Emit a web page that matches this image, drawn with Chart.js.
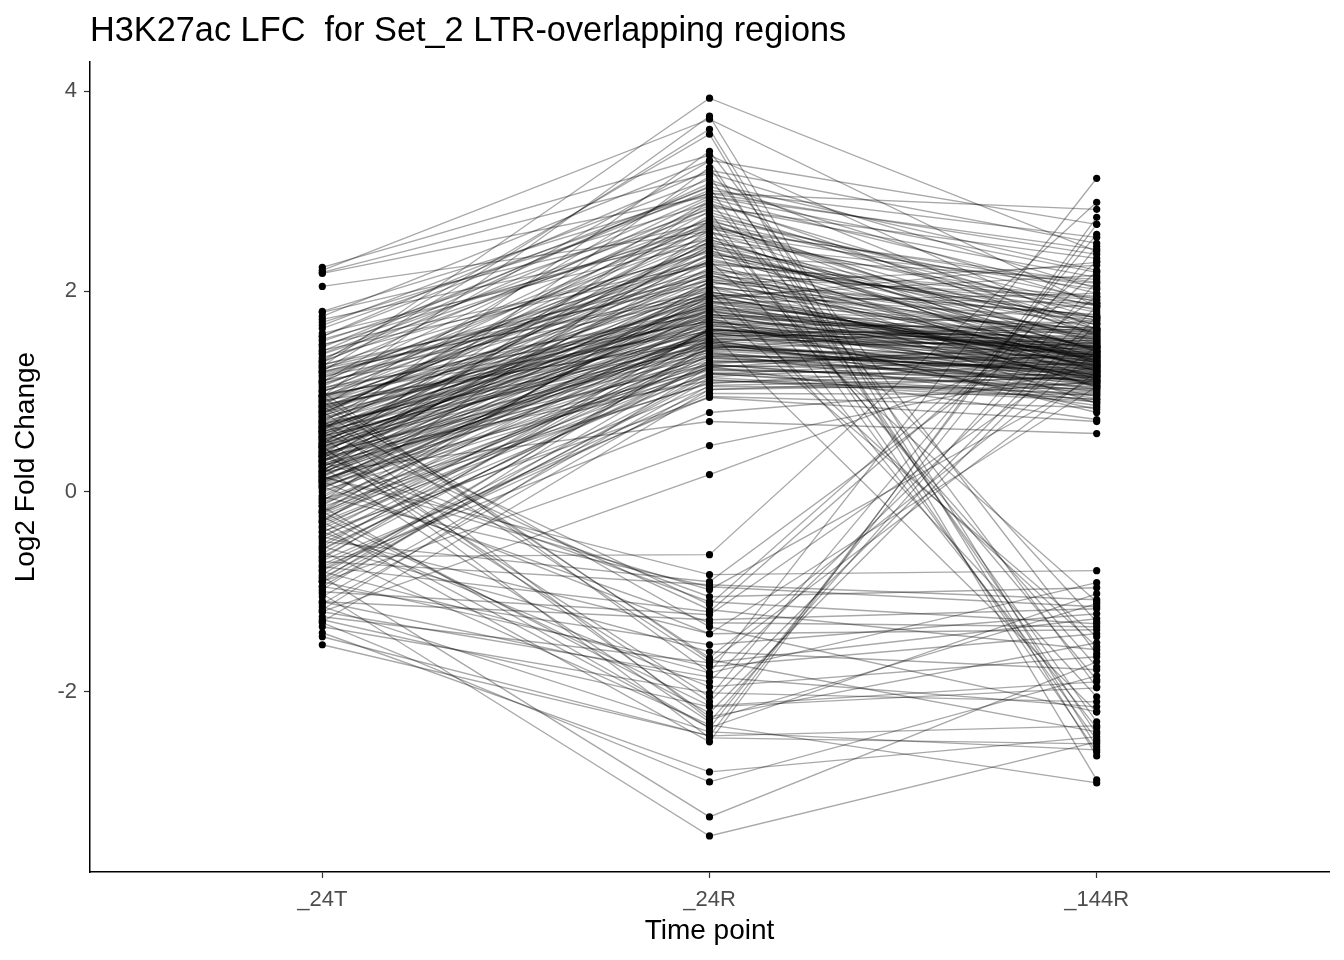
<!DOCTYPE html>
<html>
<head>
<meta charset="utf-8">
<script src="https://cdn.jsdelivr.net/npm/chart.js@4.4.0/dist/chart.umd.min.js"></script>
<style>
  body { margin: 0; background: #fff; }
  #wrap { width: 1344px; height: 960px; }
</style>
</head>
<body>
<div id="wrap"><canvas id="lfcChart" width="1344" height="960"></canvas></div>
<script>
// time points on the x axis
const timePoints = ["_24T", "_24R", "_144R"];
const yTicks = [-2, 0, 2, 4];

// log2 fold change per region, one entry per region in each array
const lfc24T = [
  0.42, 0.15, 0.88, -0.32, 1.21, 0.55, 0.03, 0.71, 1.46, -0.65,
  0.36, 0.94, -0.12, 0.61, 1.08, 0.27, -0.48, 0.79, 1.63, 0.18,
  0.50, -0.86, 1.32, 0.09, 0.67, 0.44, 1.15, -0.21, 0.83, 0.31,
  1.72, 0.58, -0.04, 0.96, 0.22, -0.57, 1.38, 0.63, 0.12, 0.47,
  0.74, 1.02, -0.35, 0.39, 1.55, 0.06, 0.86, -0.73, 0.52, 1.19,
  0.25, 0.69, -0.15, 1.27, 0.41, 0.91, -0.95, 0.33, 1.79, 0.57,
  0.14, 1.11, 0.46, -0.41, 0.78, 0.20, 1.41, -0.08, 0.65, 0.99,
  -0.62, 0.37, 1.24, 0.54, 0.01, 0.82, 1.58, -0.27, 0.43, 0.72,
  1.05, 0.29, -0.79, 0.60, 1.34, 0.11, 0.89, -0.18, 0.48, 1.66,
  0.23, 0.76, -0.52, 1.13, 0.35, 0.97, -1.05, 0.62, 0.17, 1.29,
  0.45, -0.24, 0.84, 1.50, 0.08, 0.66, -0.44, 1.18, 0.30, 0.93,
  0.56, -0.11, 1.37, 0.19, 0.75, -0.69, 1.01, 0.40, 1.69, 0.26,
  0.81, -0.37, 0.49, 1.23, 0.04, 0.70, -0.90, 1.44, 0.34, 0.59,
  -0.01, 0.87, 1.07, 0.21, -0.58, 0.64, 1.52, 0.38, -0.29, 0.77,
  1.16, 0.13, 0.53, -0.83, 0.95, 0.32, 1.30, -0.14, 0.68, 0.44,
  0.10, 1.47, -0.46, 0.80, 0.28, 1.09, -1.12, 0.51, 1.75, 0.60,
  0.24, -0.67, 0.92, 0.39, 1.26, 0.07, 0.73, -0.30, 1.04, 0.48,
  0.63, 1.40, -0.20, 0.16, 0.85, -0.98, 0.54, 1.20, 0.35, -0.06,
  0.52, 0.31, 0.68, 0.12, 0.44, -0.22, 0.90, 0.37, 0.58, 0.05,
  0.79, -0.55, 0.26, 1.10, 0.47, -0.08, 0.64, 0.18, -0.78, 0.96,
  -0.40, -0.75, 0.20, -0.90, -1.20, -1.30, -1.18, -0.88, 1.25, 1.80,
  2.21, 2.18, 2.24, 2.05, 2.19,
  0.95, 1.30, 0.60, 1.10, 0.35, 1.55, 0.20, 0.75, -0.10, 0.48, 1.00, -0.30, 0.65, 0.10,
  0.85, 0.30, 1.20, -0.20,
  -1.53, -1.41, -1.02, -0.85, -1.31, -0.60, 0.55, -1.20, 0.80, -0.25, -1.10,
  0.35, -0.70, 0.95, -0.45, -1.35, 0.15, -0.95, 0.60, -0.15, -0.80, 0.05,
  -0.40, 0.30, -1.15, 0.70, -0.55, 0.85, -1.28, -0.05, 0.45, -0.90,
  -0.50, 0.70, -1.00, 0.25, -0.20, 0.45, -1.25, -0.35, 1.00, -0.65, 0.10, -1.45,
  0.40, -0.75, 0.90, -0.30, 0.15, -1.10
];

const lfc24R = [
  1.62, 2.05, 2.41, 1.18, 2.86, 1.53, 1.71, 2.22, 2.64, 1.37,
  1.48, 2.73, 1.29, 1.95, 2.17, 1.84, 1.05, 1.66, 2.98, 2.31,
  2.12, 1.14, 3.08, 1.42, 1.59, 2.54, 1.93, 1.61, 2.37, 1.76,
  2.52, 1.44, 1.88, 1.70, 1.51, 1.26, 2.79, 2.64, 1.35, 1.97,
  1.81, 2.46, 1.52, 2.19, 3.21, 1.27, 1.63, 1.02, 1.74, 2.28,
  1.57, 2.91, 1.09, 2.07, 1.85, 1.49, 1.31, 2.43, 2.69, 2.02,
  1.96, 1.77, 1.39, 1.62, 2.58, 1.45, 2.26, 1.08, 1.69, 2.84,
  1.55, 1.72, 2.15, 2.33, 1.21, 1.98, 2.48, 1.40, 1.58, 1.91,
  2.62, 2.24, 0.98, 1.54, 2.39, 1.67, 2.05, 1.82, 2.76, 3.12,
  1.34, 1.86, 1.44, 2.55, 2.09, 1.60, 1.12, 2.18, 1.50, 2.95,
  1.88, 1.25, 1.73, 2.82, 1.94, 2.36, 1.19, 2.11, 1.65, 2.52,
  1.41, 1.58, 2.67, 1.78, 2.27, 0.95, 1.83, 2.00, 2.88, 1.22,
  2.44, 1.33, 1.69, 1.96, 1.48, 1.75, 1.17, 3.01, 1.90, 2.14,
  1.62, 1.52, 2.35, 2.46, 1.28, 1.87, 2.59, 1.36, 1.74, 2.70,
  2.21, 1.15, 1.99, 1.43, 1.79, 1.55, 2.72, 1.95, 1.46, 1.68,
  1.83, 2.28, 1.50, 2.03, 1.30, 2.93, 1.06, 1.80, 3.31, 1.61,
  2.38, 1.64, 2.16, 1.27, 2.41, 1.56, 1.92, 1.23, 1.70, 1.52,
  1.76, 3.05, 1.38, 1.60, 2.12, 1.47, 2.50, 2.00, 1.11, 1.90,
  1.72, 1.46, 2.05, 1.58, 1.90, 1.35, 2.30, 1.66, 1.81, 1.24,
  2.48, 1.62, 1.50, 2.66, 1.96, 1.43, 1.77, 2.10, 1.18, 2.20,
  0.94, 0.79, 0.70, 0.46, 0.17, 1.02, 1.25, 1.48, 3.93, 2.98,
  3.72, 2.95, 3.36, 2.60, 3.18,
  3.75, 3.57, 3.40, 3.30, 3.24, 3.04, 2.90, 2.80, 2.62, 2.50, 2.30, 2.10, 1.85, 1.60,
  3.15, 2.70, 3.62, 2.00,
  -2.44, -2.80, -3.44, -3.25, -2.90, -2.33, -2.25, -1.85, -1.71, -2.14, -1.28,
  -1.05, -0.93, -1.68, -1.42, -2.01, -0.83, -1.53, -1.18, -2.36, -1.81, -1.31,
  -1.95, -1.10, -2.40, -2.28, -1.60, -1.35, -2.15, -0.95, -2.46, -1.75,
  -0.90, -1.13, -1.23, -2.30, -2.21, -2.05, -1.71, -2.50, -1.81, -0.63, -1.42, -2.44,
  -2.10, -1.20, -1.66, -2.36, -0.98, -1.90
];

const lfc144R = [
  1.31, 1.58, 1.12, 0.96, 2.14, 1.44, 1.06, 1.83, 1.49, 1.22,
  1.17, 1.92, 1.38, 1.26, 0.88, 1.63, 1.03, 1.41, 2.37, 1.74,
  1.52, 0.92, 2.21, 1.35, 1.09, 1.86, 1.29, 1.55, 1.20, 1.68,
  1.40, 1.15, 1.98, 0.82, 1.27, 1.19, 1.62, 2.05, 1.33, 1.47,
  1.13, 1.71, 1.46, 1.36, 2.48, 0.99, 1.24, 1.08, 1.57, 1.91,
  1.42, 1.55, 1.18, 2.26, 1.32, 0.93, 1.14, 1.67, 1.28, 1.45,
  1.21, 1.50, 0.86, 1.39, 1.79, 1.25, 1.04, 1.30, 1.61, 2.33,
  1.37, 1.11, 1.94, 1.43, 1.16, 1.72, 1.26, 1.00, 1.48, 1.34,
  2.09, 1.40, 0.97, 1.23, 1.53, 1.64, 1.10, 1.44, 1.85, 1.56,
  1.08, 1.35, 1.51, 1.20, 1.76, 1.30, 0.90, 1.59, 1.15, 2.19,
  1.46, 1.27, 0.79, 1.66, 1.39, 2.12, 1.05, 1.31, 1.52, 1.41,
  1.19, 1.62, 1.47, 1.07, 1.95, 0.84, 1.36, 1.25, 1.73, 1.12,
  1.34, 1.21, 1.43, 1.88, 1.02, 1.29, 1.37, 2.54, 1.16, 1.60,
  1.54, 0.89, 1.69, 1.28, 1.44, 1.12, 2.02, 1.23, 1.38, 1.81,
  1.05, 1.32, 1.57, 1.17, 1.45, 1.60, 1.40, 2.16, 1.26, 0.95,
  1.48, 1.22, 1.09, 1.77, 1.35, 1.98, 1.14, 1.33, 2.67, 1.50,
  1.63, 1.18, 1.30, 1.01, 1.42, 1.53, 2.29, 1.11, 1.24, 1.39,
  1.27, 1.89, 1.20, 1.45, 1.74, 1.06, 1.51, 1.19, 0.98, 1.36,
  1.40, 1.22, 1.55, 1.28, 1.62, 1.10, 1.74, 1.16, 1.34, 1.49,
  2.08, 1.37, 1.03, 1.58, 1.25, 1.71, 1.44, 1.32, 0.92, 1.88,
  0.70, 1.10, 0.58, 1.25, 1.60, 1.15, 0.72, 1.88, 2.40, 2.82,
  1.85, 2.42, 1.62, 1.30, 2.03,
  -2.55, -2.88, -1.62, -2.42, -1.95, -2.60, -1.30, -2.48, -1.75, -2.36, -1.10, -2.05, -1.45, -2.20,
  -2.30, -1.88, -2.64, -1.55,
  -2.34, -2.45, -2.50, -1.70, -1.84, -2.91, -1.51, -2.15, -1.27, -1.90, -1.17,
  -0.96, -1.08, -2.40, -1.38, -2.10, -0.79, -1.22, -1.58, -1.02, -0.91, -1.35,
  -1.65, -1.32, -2.58, -1.12, -1.78, -2.20, -1.96, -1.15, -2.52, -1.42,
  1.95, 2.30, 1.45, 2.10, 1.68, 2.57, 1.20, 2.74, 3.13, 2.89, 1.05, 2.67,
  1.75, 2.20, 1.40, 2.45, 1.15, 1.85
];

const datasets = lfc24T.map((v, i) => ({
  data: [
    { x: 1, y: v },
    { x: 2, y: lfc24R[i] },
    { x: 3, y: lfc144R[i] }
  ],
  showLine: true,
  borderColor: "rgba(0, 0, 0, 0.34)",
  borderWidth: 1.35,
  pointRadius: 3.6,
  pointBackgroundColor: "#000",
  pointBorderWidth: 0,
  pointHoverRadius: 3.6
}));

const ctx = document.getElementById("lfcChart").getContext("2d");
new Chart(ctx, {
  type: "scatter",
  data: { datasets: datasets },
  options: {
    responsive: false,
    animation: false,
    devicePixelRatio: 1,
    layout: { padding: { left: 0, right: 15, top: 0, bottom: 0 } },
    plugins: {
      legend: { display: false },
      tooltip: { enabled: false },
      title: {
        display: true,
        text: "H3K27ac LFC  for Set_2 LTR-overlapping regions",
        align: "start",
        fullSize: false,
        color: "#000",
        font: { family: "'Liberation Sans', Arial, sans-serif", size: 34.3, weight: "normal" },
        padding: { top: 11, bottom: 10 }
      }
    },
    scales: {
      x: {
        type: "linear",
        min: 0.4,
        max: 3.6,
        afterBuildTicks: scale => {
          scale.ticks = timePoints.map((_, i) => ({ value: i + 1 }));
        },
        afterFit: scale => { scale.height = 88; },
        ticks: {
          callback: v => timePoints[v - 1],
          color: "#4d4d4d",
          padding: 9,
          maxRotation: 0,
          font: { family: "'Liberation Sans', Arial, sans-serif", size: 22 }
        },
        grid: { drawOnChartArea: false, tickLength: 6, tickColor: "#333", tickWidth: 1.2 },
        border: { display: true, color: "#000", width: 1.5 },
        title: {
          display: true,
          text: "Time point",
          color: "#000",
          padding: { top: 0, bottom: 12 },
          font: { family: "'Liberation Sans', Arial, sans-serif", size: 28 }
        }
      },
      y: {
        type: "linear",
        min: -3.8,
        max: 4.29,
        afterBuildTicks: scale => {
          scale.ticks = yTicks.map(v => ({ value: v }));
        },
        afterFit: scale => { scale.width = 90; },
        ticks: {
          color: "#4d4d4d",
          padding: 7,
          font: { family: "'Liberation Sans', Arial, sans-serif", size: 22 }
        },
        grid: { drawOnChartArea: false, tickLength: 6, tickColor: "#333", tickWidth: 1.2 },
        border: { display: true, color: "#000", width: 1.5 },
        title: {
          display: true,
          text: "Log2 Fold Change",
          color: "#000",
          padding: { top: 9, bottom: 0 },
          font: { family: "'Liberation Sans', Arial, sans-serif", size: 28 }
        }
      }
    }
  }
});
</script>
</body>
</html>
